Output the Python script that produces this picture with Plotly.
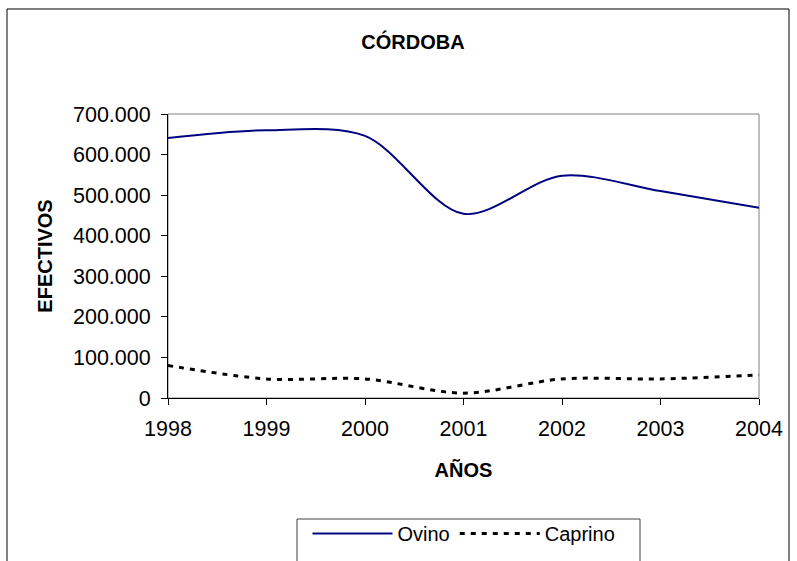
import plotly.graph_objects as go

# años y efectivos (Córdoba)
ANIOS = [1998, 1999, 2000, 2001, 2002, 2003, 2004]
OVINO = [641000, 660000, 646000, 454000, 548000, 510000, 469000]
CAPRINO = [80000, 47000, 47000, 12000, 47000, 47000, 57000]
Y_TICKS = [0, 100000, 200000, 300000, 400000, 500000, 600000, 700000]

W, H = 797, 561
L, R, T, B = 168, 38, 114, 163
PW, PH = W - L - R, H - T - B
FONT = 'Liberation Sans, Arial, sans-serif'


def px_x(x):
    return (x - L) / PW


def px_y(y):
    return (H - B - y) / PH


fig = go.Figure()
fig.add_trace(go.Scatter(
    x=ANIOS, y=OVINO, name='Ovino', mode='lines',
    line=dict(color='#000080', width=2, shape='spline', smoothing=0.9)))
fig.add_trace(go.Scatter(
    x=ANIOS, y=CAPRINO, name='Caprino', mode='lines',
    line=dict(color='black', width=3, dash='5px,6px', shape='spline', smoothing=0.9)))

fig.update_layout(
    width=W, height=H,
    margin=dict(l=L, r=R, t=T, b=B, autoexpand=False),
    paper_bgcolor='white', plot_bgcolor='white',
    font=dict(family=FONT, size=20, color='black'),
    separators=',.',
    title=dict(text='<b>CÓRDOBA</b>', x=px_x(413), xref='paper', xanchor='center',
               y=1 - 42 / H, yanchor='middle', font=dict(size=20)),
    showlegend=True,
    legend=dict(orientation='h', x=px_x(464), xanchor='center',
                y=px_y(514), yanchor='top', font=dict(size=20),
                bgcolor='rgba(0,0,0,0)', borderwidth=0, itemwidth=80),
    shapes=[
        dict(type='rect', xref='paper', yref='paper',
             x0=px_x(7), x1=px_x(789), y0=px_y(590), y1=px_y(9),
             line=dict(color='black', width=1)),
        dict(type='rect', xref='paper', yref='paper', x0=0, x1=1, y0=0, y1=1,
             line=dict(color='#808080', width=1), layer='below'),
        dict(type='rect', xref='paper', yref='paper',
             x0=px_x(297), x1=px_x(640), y0=px_y(590), y1=px_y(519),
             line=dict(color='#404040', width=1)),
    ],
)

fig.update_xaxes(
    range=[1998, 2004], tickmode='array', tickvals=ANIOS, ticktext=[str(a) for a in ANIOS],
    showgrid=False, zeroline=False, showline=True, linecolor='black', linewidth=1,
    ticks='outside', ticklen=6, tickcolor='black', ticklabelstandoff=5,
    tickfont=dict(size=21.5),
    title=dict(text='<b>AÑOS</b>', standoff=23, font=dict(size=20)))
fig.update_yaxes(
    range=[0, 700000], tickmode='array', tickvals=Y_TICKS, tickformat=',d',
    showgrid=False, zeroline=False, showline=True, linecolor='black', linewidth=1,
    ticks='outside', ticklen=6, tickcolor='black', ticklabelstandoff=6,
    tickfont=dict(size=21.5),
    title=dict(text='<b>EFECTIVOS</b>', standoff=14, font=dict(size=20)))

# quitar el margen por defecto del <body> para que la figura empiece en (0,0)
fig.write_html('out.html', config={'displayModeBar': False},
               post_script="document.body.style.margin='0';")
